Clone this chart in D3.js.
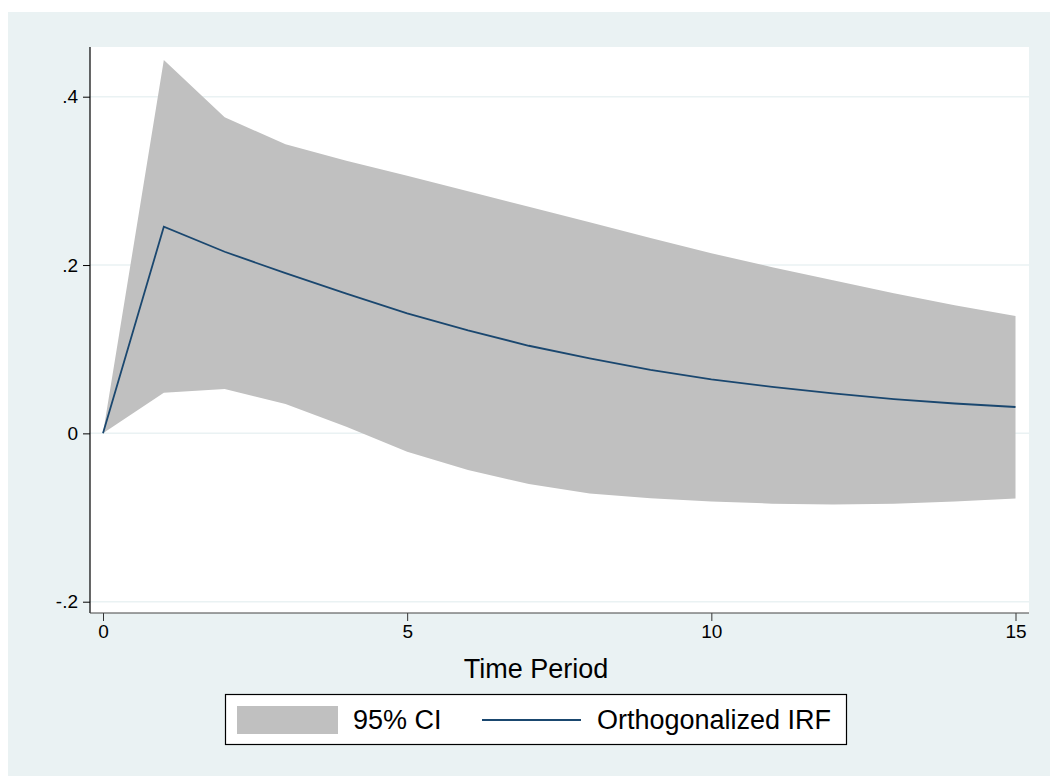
<!DOCTYPE html>
<html>
<head>
<meta charset="utf-8">
<script src="https://cdn.jsdelivr.net/npm/d3@7"></script>
<style>
  html, body { margin: 0; padding: 0; background: #ffffff; }
  svg { display: block; font-family: "Liberation Sans", Arial, Helvetica, sans-serif; }
</style>
</head>
<body>
<svg id="chart" width="1050" height="776"></svg>
<script>
// ---- data ----
const periods = [0, 1, 2, 3, 4, 5, 6, 7, 8, 9, 10, 11, 12, 13, 14, 15];
const irf = [0, 0.2455, 0.2158, 0.1903, 0.1660, 0.1426, 0.1224, 0.1041, 0.0891, 0.0755, 0.0641, 0.0553, 0.0474, 0.0407, 0.0355, 0.0313];
const ciUpper = [0, 0.4436, 0.3755, 0.3434, 0.3240, 0.3060, 0.2878, 0.2692, 0.2508, 0.2322, 0.2140, 0.1975, 0.1820, 0.1665, 0.1522, 0.1394];
const ciLower = [0, 0.0483, 0.0527, 0.0348, 0.0079, -0.0219, -0.0436, -0.0602, -0.0715, -0.0770, -0.0810, -0.0835, -0.0845, -0.0835, -0.0810, -0.0775];
const xTicks = [0, 5, 10, 15];
const yTicks = [-0.2, 0, 0.2, 0.4];
const yTickLabels = ["-.2", "0", ".2", ".4"];
const xTitle = "Time Period";
const legendLabels = ["95% CI", "Orthogonalized IRF"];

// ---- layout ----
const svg = d3.select("#chart");
const plot = { left: 90, right: 1029, top: 47, bottom: 613 };
const bg = "#eaf2f3";
const ciColor = "#c0c0c0";
const lineColor = "#1a476f";
const font = "Liberation Sans, Arial, sans-serif";

const x = d3.scaleLinear().domain([0, 15]).range([103, 1015.5]);
const y = d3.scaleLinear().domain([-0.2, 0.4]).range([601.7, 96.7]);

// outer background
svg.append("rect").attr("x", 8).attr("y", 12).attr("width", 1042).attr("height", 764).attr("fill", bg);
// plot region
svg.append("rect").attr("x", plot.left).attr("y", plot.top)
  .attr("width", plot.right - plot.left).attr("height", plot.bottom - plot.top).attr("fill", "#ffffff");

// gridlines
svg.append("g").selectAll("line").data(yTicks).join("line")
  .attr("x1", plot.left).attr("x2", plot.right)
  .attr("y1", d => y(d)).attr("y2", d => y(d))
  .attr("stroke", bg).attr("stroke-width", 1.5);

const data = periods.map((p, i) => ({ p, irf: irf[i], lo: ciLower[i], hi: ciUpper[i] }));

// CI area
svg.append("path").datum(data)
  .attr("d", d3.area().x(d => x(d.p)).y0(d => y(d.lo)).y1(d => y(d.hi)))
  .attr("fill", ciColor);

// IRF line
svg.append("path").datum(data)
  .attr("d", d3.line().x(d => x(d.p)).y(d => y(d.irf)))
  .attr("fill", "none").attr("stroke", lineColor).attr("stroke-width", 1.8)
  .attr("stroke-linejoin", "miter");

// y axis
const yAxis = d3.axisLeft(y).tickValues(yTicks).tickSize(7).tickPadding(5)
  .tickFormat((d, i) => yTickLabels[i]);
const gy = svg.append("g").attr("transform", `translate(${plot.left},0)`).call(yAxis);
gy.select(".domain").remove();
gy.selectAll(".tick line").attr("stroke", "#000").attr("stroke-width", 1);
gy.selectAll(".tick text").attr("font-size", 19).attr("fill", "#000").attr("font-family", font);
svg.append("line").attr("x1", plot.left).attr("x2", plot.left)
  .attr("y1", plot.top).attr("y2", plot.bottom).attr("stroke", "#000").attr("stroke-width", 1.2);

// x axis
const xAxis = d3.axisBottom(x).tickValues(xTicks).tickSize(8).tickPadding(4).tickFormat(d3.format("d"));
const gx = svg.append("g").attr("transform", `translate(0,${plot.bottom})`).call(xAxis);
gx.select(".domain").remove();
gx.selectAll(".tick line").attr("stroke", "#333").attr("stroke-width", 1);
gx.selectAll(".tick text").attr("font-size", 19).attr("fill", "#000").attr("font-family", font);
svg.append("line").attr("x1", plot.left).attr("x2", plot.right)
  .attr("y1", plot.bottom).attr("y2", plot.bottom).attr("stroke", "#444").attr("stroke-width", 1.2);

// x title
svg.append("text").attr("x", 536).attr("y", 678).attr("text-anchor", "middle")
  .attr("font-size", 27).attr("fill", "#000").attr("font-family", font).text(xTitle);

// legend
const lg = svg.append("g");
lg.append("rect").attr("x", 225.5).attr("y", 694.5).attr("width", 621).attr("height", 50)
  .attr("fill", "#fff").attr("stroke", "#000").attr("stroke-width", 1.2);
lg.append("rect").attr("x", 237).attr("y", 706).attr("width", 101).attr("height", 28).attr("fill", ciColor);
lg.append("text").attr("x", 353).attr("y", 729).attr("font-size", 27).attr("fill", "#000")
  .attr("font-family", font).text(legendLabels[0]);
lg.append("line").attr("x1", 482).attr("x2", 581).attr("y1", 720).attr("y2", 720)
  .attr("stroke", lineColor).attr("stroke-width", 1.8);
lg.append("text").attr("x", 597).attr("y", 729).attr("font-size", 27).attr("fill", "#000")
  .attr("font-family", font).text(legendLabels[1]);
</script>
</body>
</html>
